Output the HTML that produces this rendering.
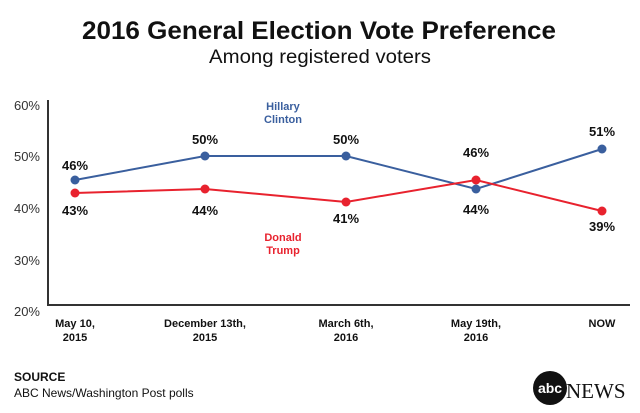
<!DOCTYPE html>
<html><head><style>
body{margin:0;background:#fff;}
svg{display:block;font-family:"Liberation Sans",sans-serif;}
</style></head><body>
<svg width="640" height="413" viewBox="0 0 640 413">
<rect width="640" height="413" fill="#fff"/>
<text x="82" y="39" font-size="25" font-weight="bold" fill="#111" textLength="474" lengthAdjust="spacingAndGlyphs">2016 General Election Vote Preference</text>
<text x="209" y="63" font-size="19" fill="#111" textLength="222" lengthAdjust="spacingAndGlyphs">Among registered voters</text>
<g font-size="13" fill="#333" text-anchor="end">
<text x="40" y="110">60%</text><text x="40" y="161">50%</text><text x="40" y="213">40%</text><text x="40" y="265">30%</text><text x="40" y="316">20%</text>
</g>
<path d="M48 100 V305 H630" fill="none" stroke="#333" stroke-width="2"/>
<polyline points="75,180 205,156 346,156 476,189 602,149" fill="none" stroke="#3a5f9e" stroke-width="2"/>
<polyline points="75,193 205,189 346,202 476,180 602,211" fill="none" stroke="#e8222e" stroke-width="2"/>
<g fill="#3a5f9e"><circle cx="75" cy="180" r="4.5"/><circle cx="205" cy="156" r="4.5"/><circle cx="346" cy="156" r="4.5"/><circle cx="476" cy="189" r="4.5"/><circle cx="602" cy="149" r="4.5"/></g>
<g fill="#e8222e"><circle cx="75" cy="193" r="4.5"/><circle cx="205" cy="189" r="4.5"/><circle cx="346" cy="202" r="4.5"/><circle cx="476" cy="180" r="4.5"/><circle cx="602" cy="211" r="4.5"/></g>
<g font-size="13" font-weight="bold" fill="#111" text-anchor="middle">
<text x="75" y="170">46%</text><text x="205" y="144">50%</text><text x="346" y="144">50%</text><text x="476" y="157">46%</text><text x="602" y="136">51%</text>
<text x="75" y="215">43%</text><text x="205" y="215">44%</text><text x="346" y="223">41%</text><text x="476" y="214">44%</text><text x="602" y="231">39%</text>
</g>
<g font-size="11" font-weight="bold" text-anchor="middle">
<text x="283" y="110" fill="#3a5f9e">Hillary</text><text x="283" y="123" fill="#3a5f9e">Clinton</text>
<text x="283" y="241" fill="#e8222e">Donald</text><text x="283" y="254" fill="#e8222e">Trump</text>
</g>
<g font-size="11" font-weight="bold" fill="#111" text-anchor="middle">
<text x="75" y="327">May 10,</text><text x="75" y="341">2015</text>
<text x="205" y="327">December 13th,</text><text x="205" y="341">2015</text>
<text x="346" y="327">March 6th,</text><text x="346" y="341">2016</text>
<text x="476" y="327">May 19th,</text><text x="476" y="341">2016</text>
<text x="602" y="327">NOW</text>
</g>
<text x="14" y="381" font-size="12" font-weight="bold" fill="#111">SOURCE</text>
<text x="14" y="397" font-size="12" fill="#111">ABC News/Washington Post polls</text>
<circle cx="550" cy="388" r="17" fill="#111"/>
<text x="550" y="393" text-anchor="middle" font-size="14" font-weight="bold" fill="#fff">abc</text>
<text x="566" y="398" font-family="Liberation Serif,serif" font-size="21" fill="#111">NEWS</text>
</svg>
</body></html>
